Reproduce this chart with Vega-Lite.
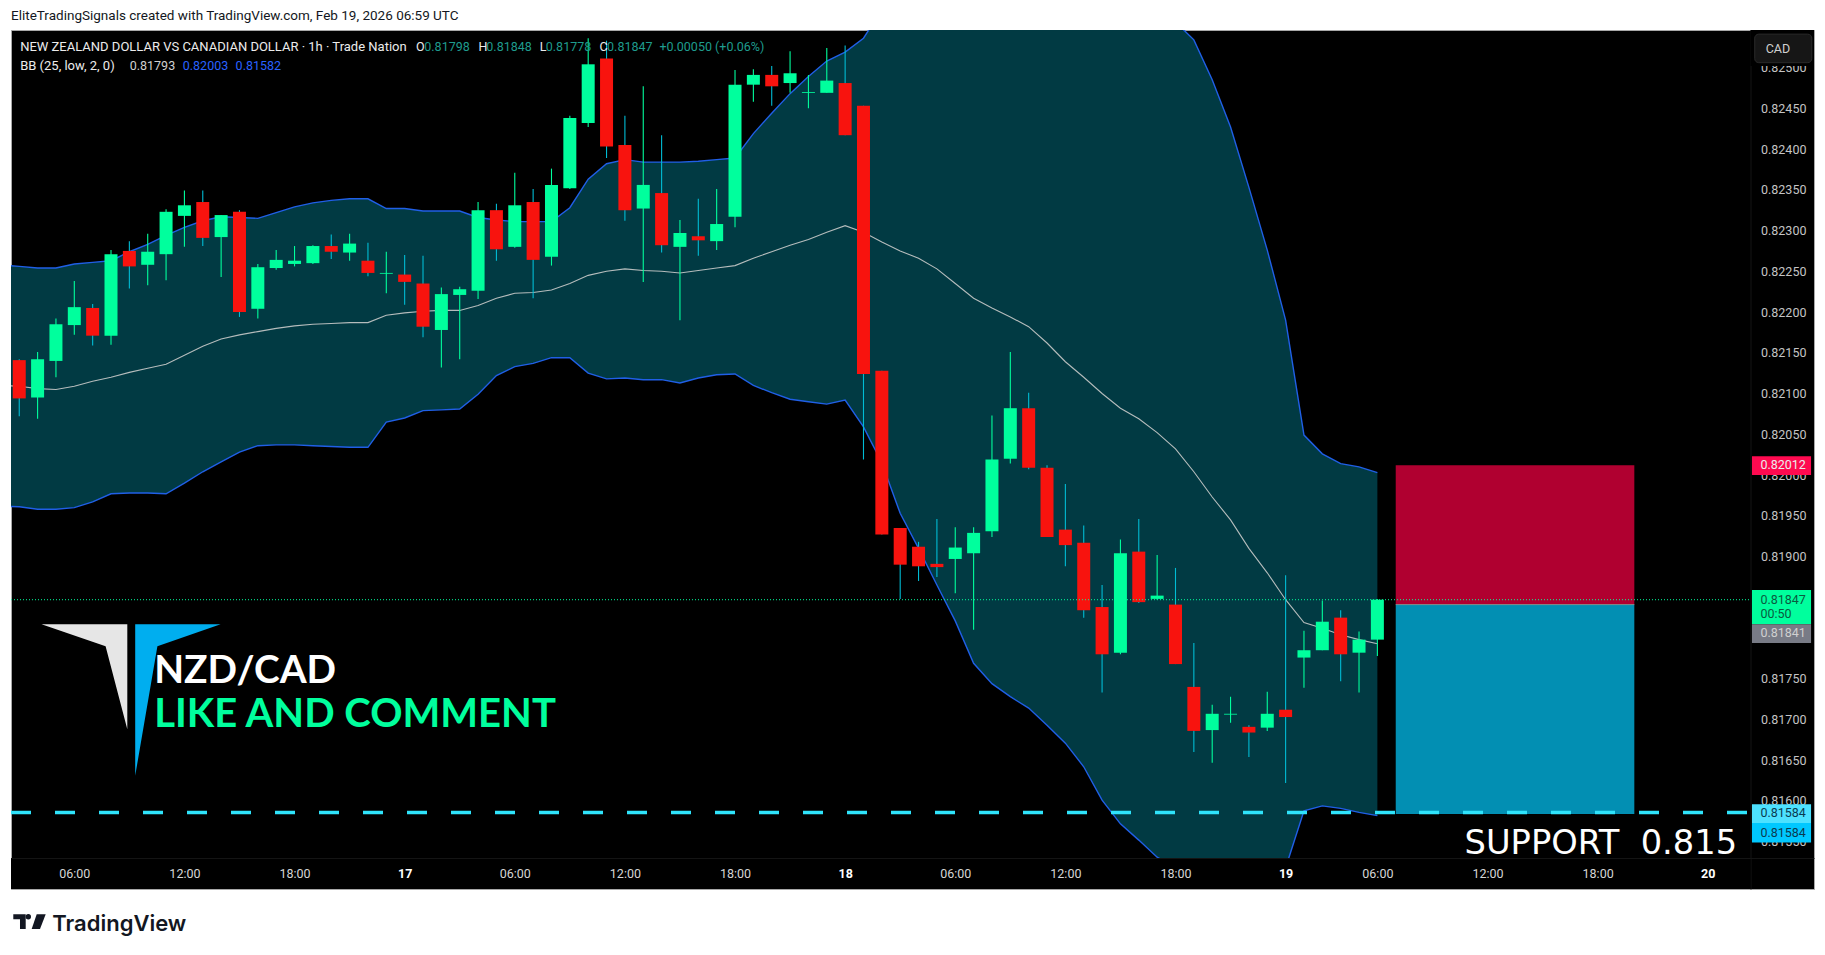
{
  "$schema": "https://vega.github.io/schema/vega-lite/v6.json",
  "autosize": "none",
  "width": 1803,
  "height": 859,
  "padding": {"left": 11, "top": 30, "right": 11, "bottom": 66},
  "background": "#ffffff",
  "view": {"fill": "#000000", "stroke": "#a8a8a8"},
  "title": {
    "text": "EliteTradingSignals created with TradingView.com, Feb 19, 2026 06:59 UTC",
    "anchor": "start",
    "frame": "group",
    "offset": 8,
    "font": "Roboto",
    "fontSize": 13.5,
    "fontWeight": "normal",
    "color": "#131722"
  },
  "datasets": {
    "candles": [
      {"t":3,"open":0.82141,"high":0.82142,"low":0.82072,"close":0.82094},
      {"t":4,"open":0.82095,"high":0.82151,"low":0.82069,"close":0.82142},
      {"t":5,"open":0.82140,"high":0.82192,"low":0.82120,"close":0.82185},
      {"t":6,"open":0.82184,"high":0.82238,"low":0.82172,"close":0.82206},
      {"t":7,"open":0.82205,"high":0.82210,"low":0.82159,"close":0.82171},
      {"t":8,"open":0.82171,"high":0.82276,"low":0.82160,"close":0.82271},
      {"t":9,"open":0.82275,"high":0.82287,"low":0.82229,"close":0.82256},
      {"t":10,"open":0.82258,"high":0.82296,"low":0.82233,"close":0.82274},
      {"t":11,"open":0.82271,"high":0.82326,"low":0.82239,"close":0.82323},
      {"t":12,"open":0.82318,"high":0.82349,"low":0.82280,"close":0.82331},
      {"t":13,"open":0.82335,"high":0.82349,"low":0.82281,"close":0.82291},
      {"t":14,"open":0.82292,"high":0.82319,"low":0.82243,"close":0.82319},
      {"t":15,"open":0.82323,"high":0.82325,"low":0.82194,"close":0.82200},
      {"t":16,"open":0.82204,"high":0.82259,"low":0.82192,"close":0.82255},
      {"t":17,"open":0.82254,"high":0.82276,"low":0.82252,"close":0.82264},
      {"t":18,"open":0.82259,"high":0.82281,"low":0.82256,"close":0.82263},
      {"t":19,"open":0.82260,"high":0.82282,"low":0.82259,"close":0.82281},
      {"t":20,"open":0.82281,"high":0.82295,"low":0.82265,"close":0.82274},
      {"t":21,"open":0.82273,"high":0.82296,"low":0.82263,"close":0.82284},
      {"t":22,"open":0.82263,"high":0.82285,"low":0.82244,"close":0.82248},
      {"t":23,"open":0.82247,"high":0.82274,"low":0.82223,"close":0.82248},
      {"t":24,"open":0.82246,"high":0.82270,"low":0.82209,"close":0.82237},
      {"t":25,"open":0.82235,"high":0.82269,"low":0.82169,"close":0.82182},
      {"t":26,"open":0.82178,"high":0.82230,"low":0.82132,"close":0.82222},
      {"t":27,"open":0.82221,"high":0.82231,"low":0.82142,"close":0.82228},
      {"t":28,"open":0.82226,"high":0.82335,"low":0.82216,"close":0.82325},
      {"t":29,"open":0.82325,"high":0.82333,"low":0.82263,"close":0.82277},
      {"t":30,"open":0.82280,"high":0.82371,"low":0.82279,"close":0.82331},
      {"t":31,"open":0.82335,"high":0.82351,"low":0.82217,"close":0.82264},
      {"t":32,"open":0.82268,"high":0.82376,"low":0.82257,"close":0.82356},
      {"t":33,"open":0.82352,"high":0.82441,"low":0.82351,"close":0.82438},
      {"t":34,"open":0.82432,"high":0.82536,"low":0.82427,"close":0.82504},
      {"t":35,"open":0.82511,"high":0.82533,"low":0.82389,"close":0.82403},
      {"t":36,"open":0.82405,"high":0.82441,"low":0.82312,"close":0.82325},
      {"t":37,"open":0.82327,"high":0.82477,"low":0.82237,"close":0.82356},
      {"t":38,"open":0.82346,"high":0.82417,"low":0.82273,"close":0.82282},
      {"t":39,"open":0.82280,"high":0.82313,"low":0.82190,"close":0.82297},
      {"t":40,"open":0.82293,"high":0.82339,"low":0.82269,"close":0.82288},
      {"t":41,"open":0.82287,"high":0.82351,"low":0.82276,"close":0.82308},
      {"t":42,"open":0.82317,"high":0.82497,"low":0.82304,"close":0.82479},
      {"t":43,"open":0.82479,"high":0.82498,"low":0.82458,"close":0.82491},
      {"t":44,"open":0.82491,"high":0.82502,"low":0.82453,"close":0.82477},
      {"t":45,"open":0.82481,"high":0.82520,"low":0.82469,"close":0.82493},
      {"t":46,"open":0.82469,"high":0.82491,"low":0.82450,"close":0.82470},
      {"t":47,"open":0.82469,"high":0.82524,"low":0.82469,"close":0.82484},
      {"t":48,"open":0.82481,"high":0.82527,"low":0.82417,"close":0.82417},
      {"t":49,"open":0.82453,"high":0.82453,"low":0.82019,"close":0.82124},
      {"t":50,"open":0.82128,"high":0.82128,"low":0.81927,"close":0.81927},
      {"t":51,"open":0.81935,"high":0.81935,"low":0.81848,"close":0.81890},
      {"t":52,"open":0.81912,"high":0.81918,"low":0.81870,"close":0.81888},
      {"t":53,"open":0.81891,"high":0.81946,"low":0.81875,"close":0.81887},
      {"t":54,"open":0.81897,"high":0.81936,"low":0.81855,"close":0.81911},
      {"t":55,"open":0.81904,"high":0.81936,"low":0.81810,"close":0.81929},
      {"t":56,"open":0.81931,"high":0.82073,"low":0.81924,"close":0.82019},
      {"t":57,"open":0.82020,"high":0.82151,"low":0.82014,"close":0.82082},
      {"t":58,"open":0.82082,"high":0.82101,"low":0.82007,"close":0.82009},
      {"t":59,"open":0.82009,"high":0.82012,"low":0.81924,"close":0.81924},
      {"t":60,"open":0.81933,"high":0.81989,"low":0.81888,"close":0.81914},
      {"t":61,"open":0.81917,"high":0.81938,"low":0.81825,"close":0.81834},
      {"t":62,"open":0.81838,"high":0.81865,"low":0.81733,"close":0.81780},
      {"t":63,"open":0.81782,"high":0.81921,"low":0.81780,"close":0.81904},
      {"t":64,"open":0.81906,"high":0.81946,"low":0.81843,"close":0.81844},
      {"t":65,"open":0.81848,"high":0.81902,"low":0.81847,"close":0.81852},
      {"t":66,"open":0.81841,"high":0.81886,"low":0.81768,"close":0.81768},
      {"t":67,"open":0.81740,"high":0.81794,"low":0.81660,"close":0.81686},
      {"t":68,"open":0.81687,"high":0.81718,"low":0.81647,"close":0.81707},
      {"t":69,"open":0.81706,"high":0.81728,"low":0.81696,"close":0.81707},
      {"t":70,"open":0.81691,"high":0.81693,"low":0.81654,"close":0.81684},
      {"t":71,"open":0.81690,"high":0.81734,"low":0.81686,"close":0.81707},
      {"t":72,"open":0.81712,"high":0.81877,"low":0.81622,"close":0.81703},
      {"t":73,"open":0.81776,"high":0.81809,"low":0.81739,"close":0.81785},
      {"t":74,"open":0.81785,"high":0.81846,"low":0.81785,"close":0.81820},
      {"t":75,"open":0.81825,"high":0.81834,"low":0.81747,"close":0.81780},
      {"t":76,"open":0.81782,"high":0.81808,"low":0.81733,"close":0.81798},
      {"t":77,"open":0.81798,"high":0.81848,"low":0.81778,"close":0.81847}
    ],
    "bands": [
      {"t":2,"upper":0.82258,"basis":0.82110,"lower":0.81962},
      {"t":3,"upper":0.82256,"basis":0.82109,"lower":0.81961},
      {"t":4,"upper":0.82254,"basis":0.82106,"lower":0.81958},
      {"t":5,"upper":0.82254,"basis":0.82105,"lower":0.81958},
      {"t":6,"upper":0.82259,"basis":0.82109,"lower":0.81960},
      {"t":7,"upper":0.82261,"basis":0.82115,"lower":0.81967},
      {"t":8,"upper":0.82263,"basis":0.82120,"lower":0.81977},
      {"t":9,"upper":0.82274,"basis":0.82126,"lower":0.81978},
      {"t":10,"upper":0.82283,"basis":0.82131,"lower":0.81978},
      {"t":11,"upper":0.82294,"basis":0.82136,"lower":0.81977},
      {"t":12,"upper":0.82304,"basis":0.82147,"lower":0.81990},
      {"t":13,"upper":0.82312,"basis":0.82158,"lower":0.82004},
      {"t":14,"upper":0.82317,"basis":0.82167,"lower":0.82016},
      {"t":15,"upper":0.82316,"basis":0.82172,"lower":0.82028},
      {"t":16,"upper":0.82315,"basis":0.82176,"lower":0.82036},
      {"t":17,"upper":0.82322,"basis":0.82180,"lower":0.82037},
      {"t":18,"upper":0.82329,"basis":0.82183,"lower":0.82037},
      {"t":19,"upper":0.82334,"basis":0.82185,"lower":0.82036},
      {"t":20,"upper":0.82337,"basis":0.82186,"lower":0.82035},
      {"t":21,"upper":0.82339,"basis":0.82187,"lower":0.82034},
      {"t":22,"upper":0.82339,"basis":0.82187,"lower":0.82034},
      {"t":23,"upper":0.82327,"basis":0.82196,"lower":0.82065},
      {"t":24,"upper":0.82327,"basis":0.82199,"lower":0.82070},
      {"t":25,"upper":0.82324,"basis":0.82201,"lower":0.82079},
      {"t":26,"upper":0.82324,"basis":0.82202,"lower":0.82080},
      {"t":27,"upper":0.82324,"basis":0.82202,"lower":0.82081},
      {"t":28,"upper":0.82316,"basis":0.82208,"lower":0.82099},
      {"t":29,"upper":0.82313,"basis":0.82217,"lower":0.82122},
      {"t":30,"upper":0.82311,"basis":0.82223,"lower":0.82133},
      {"t":31,"upper":0.82311,"basis":0.82224,"lower":0.82137},
      {"t":32,"upper":0.82311,"basis":0.82227,"lower":0.82144},
      {"t":33,"upper":0.82328,"basis":0.82235,"lower":0.82144},
      {"t":34,"upper":0.82363,"basis":0.82245,"lower":0.82125},
      {"t":35,"upper":0.82382,"basis":0.82250,"lower":0.82118},
      {"t":36,"upper":0.82387,"basis":0.82253,"lower":0.82119},
      {"t":37,"upper":0.82384,"basis":0.82251,"lower":0.82117},
      {"t":38,"upper":0.82384,"basis":0.82250,"lower":0.82117},
      {"t":39,"upper":0.82384,"basis":0.82248,"lower":0.82113},
      {"t":40,"upper":0.82385,"basis":0.82251,"lower":0.82119},
      {"t":41,"upper":0.82387,"basis":0.82254,"lower":0.82123},
      {"t":42,"upper":0.82389,"basis":0.82257,"lower":0.82124},
      {"t":43,"upper":0.82419,"basis":0.82266,"lower":0.82110},
      {"t":44,"upper":0.82444,"basis":0.82274,"lower":0.82101},
      {"t":45,"upper":0.82468,"basis":0.82282,"lower":0.82093},
      {"t":46,"upper":0.82489,"basis":0.82289,"lower":0.82090},
      {"t":47,"upper":0.82508,"basis":0.82298,"lower":0.82087},
      {"t":48,"upper":0.82519,"basis":0.82306,"lower":0.82092},
      {"t":49,"upper":0.82536,"basis":0.82298,"lower":0.82059},
      {"t":50,"upper":0.82571,"basis":0.82286,"lower":0.82015},
      {"t":51,"upper":0.82614,"basis":0.82275,"lower":0.81953},
      {"t":52,"upper":0.82657,"basis":0.82266,"lower":0.81910},
      {"t":53,"upper":0.82693,"basis":0.82253,"lower":0.81865},
      {"t":54,"upper":0.82718,"basis":0.82235,"lower":0.81821},
      {"t":55,"upper":0.82736,"basis":0.82217,"lower":0.81769},
      {"t":56,"upper":0.82749,"basis":0.82205,"lower":0.81744},
      {"t":57,"upper":0.82755,"basis":0.82194,"lower":0.81728},
      {"t":58,"upper":0.82755,"basis":0.82182,"lower":0.81714},
      {"t":59,"upper":0.82749,"basis":0.82162,"lower":0.81693},
      {"t":60,"upper":0.82736,"basis":0.82139,"lower":0.81671},
      {"t":61,"upper":0.82724,"basis":0.82120,"lower":0.81642},
      {"t":62,"upper":0.82706,"basis":0.82100,"lower":0.81601},
      {"t":63,"upper":0.82681,"basis":0.82082,"lower":0.81572},
      {"t":64,"upper":0.82650,"basis":0.82069,"lower":0.81552},
      {"t":65,"upper":0.82614,"basis":0.82052,"lower":0.81531},
      {"t":66,"upper":0.82556,"basis":0.82032,"lower":0.81518},
      {"t":67,"upper":0.82534,"basis":0.82004,"lower":0.81503},
      {"t":68,"upper":0.82485,"basis":0.81973,"lower":0.81488},
      {"t":69,"upper":0.82427,"basis":0.81945,"lower":0.81479},
      {"t":70,"upper":0.82353,"basis":0.81910,"lower":0.81479},
      {"t":71,"upper":0.82276,"basis":0.81880,"lower":0.81491},
      {"t":72,"upper":0.82190,"basis":0.81847,"lower":0.81518},
      {"t":73,"upper":0.82049,"basis":0.81819,"lower":0.81588},
      {"t":74,"upper":0.82026,"basis":0.81812,"lower":0.81594},
      {"t":75,"upper":0.82014,"basis":0.81804,"lower":0.81591},
      {"t":76,"upper":0.82010,"basis":0.81798,"lower":0.81586},
      {"t":77,"upper":0.82003,"basis":0.81793,"lower":0.81582}
    ],
    "boxes": [
      {"key":"strip","x1":2.551,"x2":97.33,"top":0.8153,"bottom":0.81492},
      {"key":"strip","x1":97.33,"x2":100.79,"top":0.82546,"bottom":0.82502},
      {"key":"stop","x1":78,"x2":91,"top":0.82012,"bottom":0.81841},
      {"key":"target","x1":78,"x2":91,"top":0.81841,"bottom":0.81584},
      {"key":"tagStop","x1":97.41,"x2":100.63,"top":0.82023,"bottom":0.82},
      {"key":"tagClose","x1":97.41,"x2":100.63,"top":0.81859,"bottom":0.81817},
      {"key":"tagBid","x1":97.41,"x2":100.63,"top":0.81817,"bottom":0.81794},
      {"key":"tagSupport","x1":97.41,"x2":100.63,"top":0.81596,"bottom":0.81573},
      {"key":"tagBand","x1":97.41,"x2":100.63,"top":0.81573,"bottom":0.81549}
    ]
  },
  "encoding": {
    "x": {
      "field": "t",
      "type": "quantitative",
      "title": null,
      "scale": {"domain": [2.551, 100.79], "nice": false, "zero": false, "padding": 0},
      "axis": {
        "title": null,
        "orient": "bottom",
        "offset": -31,
        "zindex": 1,
        "grid": false,
        "ticks": false,
        "domain": true,
        "domainColor": "#141414",
        "labelPadding": 15,
        "labelBaseline": "middle",
        "labelFont": "Roboto",
        "labelFontSize": 12.5,
        "labelColor": {"condition": {"test": "datum.value==24||datum.value==48||datum.value==72||datum.value==95", "value": "#ffffff"}, "value": "#d6d6d6"},
        "labelFontWeight": {"condition": {"test": "datum.value==24||datum.value==48||datum.value==72||datum.value==95", "value": "bold"}, "value": "normal"},
        "labelOverlap": false,
        "labelBound": false,
        "labelFlush": false,
        "values": [6, 12, 18, 24, 30, 36, 42, 48, 54, 60, 66, 72, 77, 83, 89, 95],
        "labelExpr": "{'6':'06:00','12':'12:00','18':'18:00','24':'17','30':'06:00','36':'12:00','42':'18:00','48':'18','54':'06:00','60':'12:00','66':'18:00','72':'19','77':'06:00','83':'12:00','89':'18:00','95':'20'}[datum.value]"
      }
    },
    "y": {
      "field": "p",
      "type": "quantitative",
      "title": null,
      "scale": {"domain": [0.81492, 0.825461], "nice": false, "zero": false, "padding": 0},
      "axis": {
        "title": null,
        "orient": "right",
        "offset": -63.5,
        "zindex": 0,
        "grid": false,
        "ticks": false,
        "domain": true,
        "domainColor": "#141414",
        "labelPadding": 10,
        "labelBaseline": "middle",
        "labelFont": "Roboto",
        "labelFontSize": 12.5,
        "labelColor": "#c4c4c4",
        "labelOverlap": false,
        "labelBound": false,
        "format": ".5f",
        "values": [0.8155, 0.816, 0.8165, 0.817, 0.8175, 0.819, 0.8195, 0.82, 0.8205, 0.821, 0.8215, 0.822, 0.8225, 0.823, 0.8235, 0.824, 0.8245, 0.825]
      }
    }
  },
  "layer": [
    {
      "data": {"name": "bands"},
      "mark": {"type": "area", "color": "#013a43", "clip": true},
      "encoding": {
        "y": {"field": "upper", "type": "quantitative", "title": null},
        "y2": {"field": "lower"}
      }
    },
    {
      "data": {"name": "bands"},
      "mark": {"type": "line", "color": "#205fe6", "strokeWidth": 1.4, "clip": true},
      "encoding": {"y": {"field": "upper", "type": "quantitative", "title": null}}
    },
    {
      "data": {"name": "bands"},
      "mark": {"type": "line", "color": "#205fe6", "strokeWidth": 1.4, "clip": true},
      "encoding": {"y": {"field": "lower", "type": "quantitative", "title": null}}
    },
    {
      "data": {"name": "bands"},
      "mark": {"type": "line", "color": "#b5bcbc", "strokeWidth": 1.1, "clip": true},
      "encoding": {"y": {"field": "basis", "type": "quantitative", "title": null}}
    },
    {
      "data": {"name": "candles"},
      "mark": {"type": "rule", "strokeWidth": 1.1, "clip": true},
      "encoding": {
        "y": {"field": "low", "type": "quantitative", "title": null},
        "y2": {"field": "high"},
        "color": {"condition": {"test": "datum.close>=datum.open", "value": "#00ff9d"}, "value": "#00bcd4"}
      }
    },
    {
      "data": {"name": "candles"},
      "mark": {"type": "bar", "size": 13, "clip": true},
      "encoding": {
        "y": {"field": "open", "type": "quantitative", "title": null},
        "y2": {"field": "close"},
        "color": {"condition": {"test": "datum.close>=datum.open", "value": "#00ff9d"}, "value": "#f8130e"}
      }
    },
    {
      "data": {"name": "boxes"},
      "mark": {"type": "rect"},
      "encoding": {
        "x": {"field": "x1", "type": "quantitative", "title": null},
        "x2": {"field": "x2"},
        "y": {"field": "top", "type": "quantitative", "title": null},
        "y2": {"field": "bottom"},
        "color": {
          "field": "key",
          "type": "nominal",
          "legend": null,
          "scale": {
            "domain": ["strip", "stop", "target", "tagStop", "tagClose", "tagBid", "tagSupport", "tagBand"],
            "range": ["#000000", "#b00030", "#028fb3", "#ff0a50", "#00ff9d", "#787b86", "#4de1ff", "#00c8ff"]
          }
        }
      }
    },
    {
      "data": {"values": [{"x1": 97.56, "x2": 100.67, "top": 0.82541, "bottom": 0.82506}]},
      "mark": {"type": "rect", "color": "#161616", "stroke": "#2a2a2a", "cornerRadius": 4},
      "encoding": {
        "x": {"field": "x1", "type": "quantitative", "title": null},
        "x2": {"field": "x2"},
        "y": {"field": "top", "type": "quantitative", "title": null},
        "y2": {"field": "bottom"}
      }
    },
    {
      "data": {"values": [{"t": 78, "t2": 91, "p": 0.81841}]},
      "mark": {"type": "rule", "color": "#8a8a8a", "strokeWidth": 1},
      "encoding": {"x2": {"field": "t2"}}
    },
    {
      "data": {"values": [{"t": 2.551, "t2": 97.33, "p": 0.81847}]},
      "mark": {"type": "rule", "color": "#00ff9d", "strokeWidth": 1, "strokeDash": [1, 2]},
      "encoding": {"x2": {"field": "t2"}}
    },
    {
      "data": {"values": [{"t": 2.551, "t2": 97.33, "p": 0.81586}]},
      "mark": {"type": "rule", "color": "#2fe3fb", "strokeWidth": 3.5, "strokeDash": [20, 24]},
      "encoding": {"x2": {"field": "t2"}}
    },
    {
      "data": {"values": [{"t": 4.213, "top": 0.81817, "bottom": 0.81817}, {"t": 7.705, "top": 0.81817, "bottom": 0.8179}, {"t": 8.888, "top": 0.81817, "bottom": 0.81688}]},
      "mark": {"type": "area", "color": "#e6e6e6"},
      "encoding": {
        "y": {"field": "top", "type": "quantitative", "title": null},
        "y2": {"field": "bottom"}
      }
    },
    {
      "data": {"values": [{"t": 9.318, "top": 0.81817, "bottom": 0.81631}, {"t": 10.528, "top": 0.81817, "bottom": 0.8179}, {"t": 13.972, "top": 0.81817, "bottom": 0.81817}]},
      "mark": {"type": "area", "color": "#00aeef"},
      "encoding": {
        "y": {"field": "top", "type": "quantitative", "title": null},
        "y2": {"field": "bottom"}
      }
    },
    {
      "data": {"values": [{"t": 10.35, "p": 0.81745, "label": "NZD/CAD"}]},
      "mark": {"type": "text", "color": "#ffffff", "font": "Lato", "fontSize": 38.8, "fontWeight": "bold", "align": "left", "baseline": "alphabetic"},
      "encoding": {"text": {"field": "label"}}
    },
    {
      "data": {"values": [{"t": 10.35, "p": 0.81691, "label": "LIKE AND COMMENT"}]},
      "mark": {"type": "text", "color": "#00ff9d", "font": "Lato", "fontSize": 40, "fontWeight": "bold", "align": "left", "baseline": "alphabetic"},
      "encoding": {"text": {"field": "label"}}
    },
    {
      "data": {"values": [{"t": 81.75, "p": 0.81535, "label": "SUPPORT\u00a0\u00a00.815"}]},
      "mark": {"type": "text", "color": "#ffffff", "font": "DejaVu Sans", "fontSize": 33.7, "align": "left", "baseline": "alphabetic"},
      "encoding": {"text": {"field": "label"}}
    },
    {
      "data": {"values": [
        {"t": 3.05, "p": 0.82525, "label": "NEW ZEALAND DOLLAR VS CANADIAN DOLLAR · 1h · Trade Nation"},
        {"t": 3.05, "p": 0.82502, "label": "BB (25, low, 2, 0)"}
      ]},
      "mark": {"type": "text", "color": "#ececec", "font": "Roboto", "fontSize": 13, "align": "left", "baseline": "middle"},
      "encoding": {"text": {"field": "label"}}
    },
    {
      "data": {"values": [
        {"t": 24.62, "p": 0.82525, "label": "O"},
        {"t": 28.02, "p": 0.82525, "label": "H"},
        {"t": 31.36, "p": 0.82525, "label": "L"},
        {"t": 34.61, "p": 0.82525, "label": "C"},
        {"t": 97.87, "p": 0.82012, "label": "0.82012"}
      ]},
      "mark": {"type": "text", "color": "#ececec", "font": "Roboto", "fontSize": 12.5, "align": "left", "baseline": "middle"},
      "encoding": {"text": {"field": "label"}}
    },
    {
      "data": {"values": [
        {"t": 25.07, "p": 0.82525, "label": "0.81798"},
        {"t": 28.45, "p": 0.82525, "label": "0.81848"},
        {"t": 31.69, "p": 0.82525, "label": "0.81778"},
        {"t": 35.03, "p": 0.82525, "label": "0.81847"},
        {"t": 37.88, "p": 0.82525, "label": "+0.00050 (+0.06%)"}
      ]},
      "mark": {"type": "text", "color": "#1f9c8e", "font": "Roboto", "fontSize": 12.5, "align": "left", "baseline": "middle"},
      "encoding": {"text": {"field": "label"}}
    },
    {
      "data": {"values": [{"t": 9.02, "p": 0.82502, "label": "0.81793"}, {"t": 97.87, "p": 0.81806, "label": "0.81841"}, {"t": 98.16, "p": 0.82523, "label": "CAD"}]},
      "mark": {"type": "text", "color": "#d0d0d0", "font": "Roboto", "fontSize": 12.5, "align": "left", "baseline": "middle"},
      "encoding": {"text": {"field": "label"}}
    },
    {
      "data": {"values": [{"t": 11.91, "p": 0.82502, "label": "0.82003"}, {"t": 14.79, "p": 0.82502, "label": "0.81582"}]},
      "mark": {"type": "text", "color": "#2962ff", "font": "Roboto", "fontSize": 12.5, "align": "left", "baseline": "middle"},
      "encoding": {"text": {"field": "label"}}
    },
    {
      "data": {"values": [{"t": 97.87, "p": 0.81847, "label": "0.81847"}, {"t": 97.87, "p": 0.81829, "label": "00:50"}]},
      "mark": {"type": "text", "color": "#0a5a40", "font": "Roboto", "fontSize": 12.5, "align": "left", "baseline": "middle"},
      "encoding": {"text": {"field": "label"}}
    },
    {
      "data": {"values": [{"t": 97.87, "p": 0.81585, "label": "0.81584"}, {"t": 97.87, "p": 0.81561, "label": "0.81584"}]},
      "mark": {"type": "text", "color": "#0b3a4f", "font": "Roboto", "fontSize": 12.5, "align": "left", "baseline": "middle"},
      "encoding": {"text": {"field": "label"}}
    },
    {
      "data": {"values": [{"t": 2.676, "top": 0.81461, "bottom": 0.81455}, {"t": 3.041, "top": 0.81461, "bottom": 0.81443}, {"t": 3.352, "top": 0.81461, "bottom": 0.81443}]},
      "mark": {"type": "area", "color": "#131722", "interpolate": "step-after"},
      "encoding": {
        "y": {"field": "top", "type": "quantitative", "title": null},
        "y2": {"field": "bottom"}
      }
    },
    {
      "data": {"values": [{"t": 3.679, "top": 0.81443, "bottom": 0.81443}, {"t": 3.951, "top": 0.81461, "bottom": 0.81443}, {"t": 4.131, "top": 0.81461, "bottom": 0.81443}, {"t": 4.442, "top": 0.81461, "bottom": 0.81461}]},
      "mark": {"type": "area", "color": "#131722"},
      "encoding": {
        "y": {"field": "top", "type": "quantitative", "title": null},
        "y2": {"field": "bottom"}
      }
    },
    {
      "data": {"values": [{"t": 3.494, "p": 0.81458}]},
      "mark": {"type": "point", "shape": "circle", "filled": true, "size": 29, "color": "#131722", "opacity": 1},
      "encoding": {}
    },
    {
      "data": {"values": [{"t": 4.8, "p": 0.81441, "label": "TradingView"}]},
      "mark": {"type": "text", "color": "#131722", "font": "Inter", "fontSize": 22, "fontWeight": 600, "align": "left", "baseline": "alphabetic"},
      "encoding": {"text": {"field": "label"}}
    }
  ]
}
